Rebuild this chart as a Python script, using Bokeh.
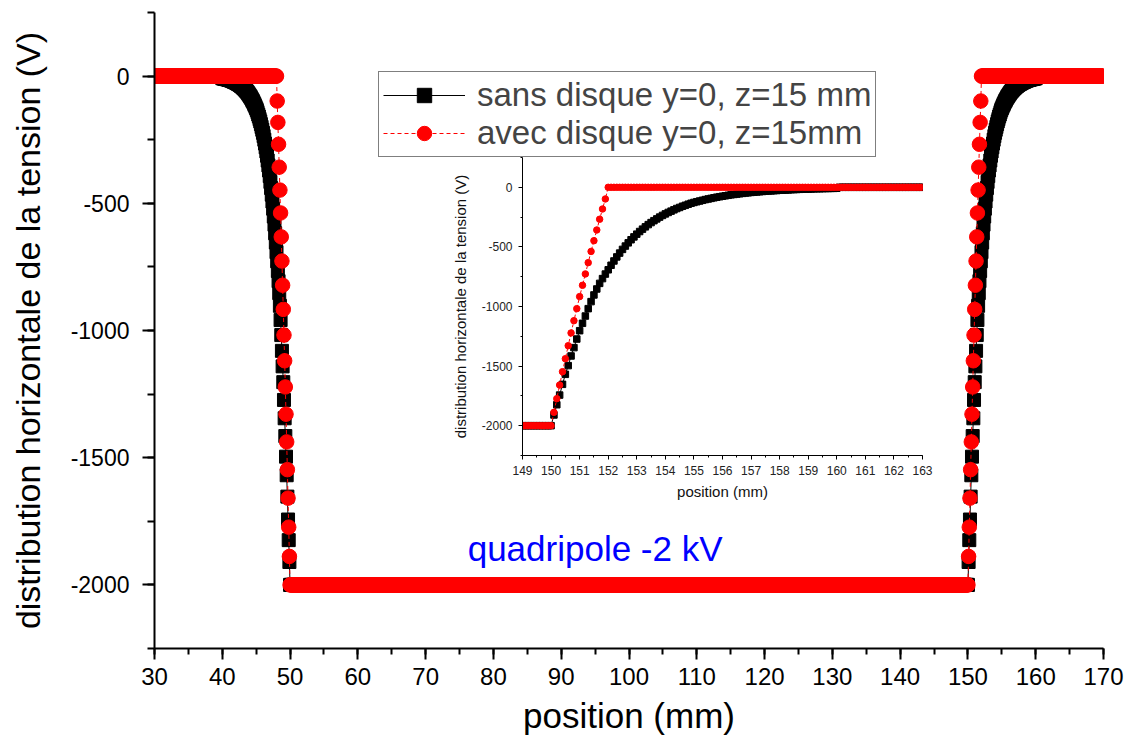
import numpy as np
from bokeh.plotting import figure
from bokeh.models import (ColumnDataSource, Legend, LegendItem, Label,
                          SingleIntervalTicker, Range1d)
from bokeh.embed import file_html
from bokeh.resources import INLINE

# ---------------- data ----------------
series_names = ["sans disque y=0, z=15 mm", "avec disque y=0, z=15mm"]
x_label = "position (mm)"
y_label = "distribution horizontale de la tension (V)"
note_text = "quadripole -2 kV"
y_ticks = [0, -500, -1000, -1500, -2000]
y_tick_labels = ["0", "-500", "-1000", "-1500", "-2000"]

# sampling grid in tenths of mm (0.1 mm step), 30 mm .. 170 mm
grid_first_tenth = 300
grid_last_tenth = 1700
# the profile is symmetric about 100 mm; edges read at 150.0, 150.1, ... mm
edge_first_tenth = 1500
mirror_tenth = 2000          # 2 * 100 mm, in tenths
inner_level = -2000          # V, between the electrodes
outer_level = 0              # V, outside

# avec disque (red), 150.0 .. 152.0 mm
red_edge = [-2000, -1888, -1773, -1659, -1547, -1438, -1329, -1222, -1119, -1018,
            -917, -822, -727, -632, -538, -448, -358, -268, -182, -98, 0]
# sans disque (black), 150.0 .. 160.0 mm
black_edge = [-2000, -1910, -1824, -1743, -1653, -1569, -1496, -1415, -1345, -1273,
              -1203, -1141, -1080, -1018, -959, -903, -853, -806, -766, -728,
              -692, -654, -618, -584, -552, -521, -493, -466, -440, -416,
              -393, -371, -351, -332, -313, -296, -280, -265, -250, -236,
              -223, -211, -200, -189, -178, -169, -159, -151, -142, -134,
              -127, -121, -115, -109, -103, -98, -93, -88, -83, -79,
              -75, -71, -67, -63, -60, -57, -54, -51, -48, -46,
              -43, -41, -39, -37, -35, -33, -31, -30, -28, -27,
              -25, -24, -23, -22, -20, -19, -18, -17, -16, -15,
              -15, -14, -13, -12, -12, -11, -10, -10, -9, -9,
              -8]


def build_profile(edge):
    xs, ys = [], []
    for k in range(grid_first_tenth, grid_last_tenth + 1):
        kr = k if 2 * k >= mirror_tenth else mirror_tenth - k
        i = kr - edge_first_tenth
        if i < 0:
            v = inner_level
        elif i < len(edge):
            v = edge[i]
        else:
            v = outer_level
        xs.append(k / 10.0)
        ys.append(v)
    return np.array(xs), np.array(ys, dtype=float)


xb, yb = build_profile(black_edge)
xr, yr = build_profile(red_edge)

src_b = ColumnDataSource(dict(x=xb, y=yb))
src_r = ColumnDataSource(dict(x=xr, y=yr))

inset_lo, inset_hi = 148.8, 163.2
mb = (xb >= inset_lo) & (xb <= inset_hi)
mr = (xr >= inset_lo) & (xr <= inset_hi)
src_bi = ColumnDataSource(dict(x=xb[mb], y=yb[mb]))
src_ri = ColumnDataSource(dict(x=xr[mr], y=yr[mr]))

FONT = "Liberation Sans"
RED = "#ff0000"
y_overrides = dict(zip(y_ticks, y_tick_labels))

# ---------------- main ----------------
p = figure(width=1130, height=744, x_range=Range1d(30, 170), y_range=Range1d(-2250, 250),
           output_backend="svg", toolbar_location=None,
           min_border_left=154, min_border_right=27, min_border_top=12, min_border_bottom=96)
p.outline_line_color = None
p.grid.visible = False

bl = p.line("x", "y", source=src_b, color="black", line_width=1)
bs = p.scatter("x", "y", source=src_b, marker="square", size=13, color="black")
rl = p.line("x", "y", source=src_r, color=RED, line_width=1, line_dash="4 3")
rs = p.scatter("x", "y", source=src_r, marker="circle", size=14.5, color=RED)

p.xaxis.ticker = SingleIntervalTicker(interval=10, num_minor_ticks=2)
p.yaxis.ticker = SingleIntervalTicker(interval=500, num_minor_ticks=2)
p.yaxis.major_label_overrides = y_overrides
p.xaxis.axis_label = x_label
p.yaxis.axis_label = y_label
for ax in (p.xaxis[0], p.yaxis[0]):
    ax.axis_line_width = 2
    ax.major_tick_line_width = 2
    ax.minor_tick_line_width = 2
    ax.major_tick_in = 0
    ax.minor_tick_in = 0
    ax.major_label_text_font = FONT
    ax.major_label_text_color = "black"
    ax.axis_label_text_font = FONT
    ax.axis_label_text_font_style = "normal"
    ax.axis_label_text_color = "black"
p.xaxis.major_label_text_font_size = "24px"
p.yaxis.major_label_text_font_size = "23px"
p.xaxis.axis_label_text_font_size = "35px"
p.yaxis.axis_label_text_font_size = "34px"
p.xaxis.major_tick_out = 11
p.xaxis.minor_tick_out = 6
p.yaxis.major_tick_out = 12
p.yaxis.minor_tick_out = 7
p.xaxis.major_label_standoff = 8
p.xaxis.axis_label_standoff = 8
p.yaxis.major_label_standoff = 13
p.yaxis.axis_label_standoff = 21

legend = Legend(items=[LegendItem(label=series_names[0], renderers=[bl, bs]),
                       LegendItem(label=series_names[1], renderers=[rl, rs])],
                location=(224, 491), margin=0, padding=4, spacing=0,
                glyph_width=82, glyph_height=36, label_standoff=12,
                label_text_font=FONT, label_text_font_size="33px",
                border_line_color="black", border_line_width=1.5,
                background_fill_color="white", background_fill_alpha=1)
p.add_layout(legend)

p.add_layout(Label(x=95, y=-1855, text=note_text, text_color="#0000ff",
                   text_font=FONT, text_font_size="35px",
                   text_align="center", text_baseline="middle"))

# ---------------- inset ----------------
q = figure(width=487, height=355, x_range=Range1d(149, 163), y_range=Range1d(-2250, 250),
           output_backend="svg", toolbar_location=None,
           min_border_left=68, min_border_right=13, min_border_top=7, min_border_bottom=50)
q.background_fill_alpha = 0
q.border_fill_alpha = 0
q.outline_line_color = None
q.grid.visible = False
q.line("x", "y", source=src_bi, color="black", line_width=1)
q.scatter("x", "y", source=src_bi, marker="square", size=6.5, color="black")
q.line("x", "y", source=src_ri, color=RED, line_width=1, line_dash="3 2")
q.scatter("x", "y", source=src_ri, marker="circle", size=6.5, color=RED)
q.xaxis.ticker = SingleIntervalTicker(interval=1, num_minor_ticks=2)
q.yaxis.ticker = SingleIntervalTicker(interval=500, num_minor_ticks=2)
q.yaxis.major_label_overrides = y_overrides
q.xaxis.axis_label = x_label
q.yaxis.axis_label = y_label
for ax in (q.xaxis[0], q.yaxis[0]):
    ax.axis_line_width = 1
    ax.major_tick_in = 0
    ax.minor_tick_in = 0
    ax.major_tick_out = 4
    ax.minor_tick_out = 2
    ax.major_label_text_font = FONT
    ax.major_label_text_font_size = "12px"
    ax.major_label_text_color = "#222222"
    ax.axis_label_text_font = FONT
    ax.axis_label_text_font_size = "15px"
    ax.axis_label_text_font_style = "normal"
    ax.axis_label_text_color = "#111111"
q.xaxis.major_label_standoff = 6
q.xaxis.axis_label_standoff = 5
q.yaxis.major_label_standoff = 6
q.yaxis.axis_label_standoff = 10
q.styles = {"position": "absolute", "left": "448px", "top": "150px"}

open("out.html", "w").write(file_html([p, q], INLINE))
